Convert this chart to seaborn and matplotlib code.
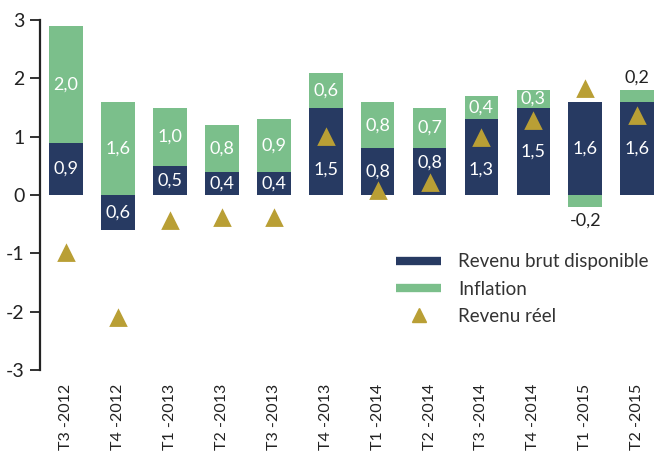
import numpy as np
import pandas as pd
import seaborn as sns
import matplotlib.pyplot as plt
from matplotlib.lines import Line2D

# Data
periodes = ["T3 -2012", "T4 -2012", "T1 -2013", "T2 -2013", "T3 -2013", "T4 -2013",
            "T1 -2014", "T2 -2014", "T3 -2014", "T4 -2014", "T1 -2015", "T2 -2015"]
revenu_brut = [0.9, -0.6, 0.5, 0.4, 0.4, 1.5, 0.8, 0.8, 1.3, 1.5, 1.6, 1.6]
inflation = [2.0, 1.6, 1.0, 0.8, 0.9, 0.6, 0.8, 0.7, 0.4, 0.3, -0.2, 0.2]
revenu_reel = [-1.0, -2.1, -0.45, -0.4, -0.4, 1.0, 0.07, 0.2, 0.98, 1.27, 1.82, 1.36]

NAVY = "#273a62"
GREEN = "#7bbf8b"
GOLD = "#b99f35"
TEXT = "#222222"

df = pd.DataFrame({"periode": periodes, "rbd": revenu_brut,
                   "inflation": inflation, "reel": revenu_reel})
same_sign = np.sign(df["rbd"]) == np.sign(df["inflation"])
df["inf_start"] = np.where(same_sign, df["rbd"], 0.0)
df["inf_end"] = df["inf_start"] + df["inflation"]

sns.set_style("white")
plt.rcParams["font.family"] = ["Lato", "DejaVu Sans"]
plt.rcParams["axes.unicode_minus"] = False

fig = plt.figure(figsize=(6.57, 4.58), dpi=100)
ax = fig.add_axes([0.061, 0.192, 0.939, 0.764])

# green drawn to the stack top first, navy painted over the lower part
sns.barplot(data=df, x="periode", y="inf_end", color=GREEN, width=0.65,
            saturation=1, linewidth=0, ax=ax)
sns.barplot(data=df, x="periode", y="rbd", color=NAVY, width=0.65,
            saturation=1, linewidth=0, ax=ax)
sns.pointplot(data=df, x="periode", y="reel", color=GOLD, linestyle="none",
              marker="^", markersize=9.5, ax=ax)
for coll in ax.collections:
    coll.set_zorder(5)

def fmt(v):
    return f"{v:.1f}".replace(".", ",")

LBL = 13
for i, row in df.iterrows():
    # keep the navy label clear of the triangle when it sits near the middle
    y_lbl = row["rbd"] / 2
    inside = 0 < row["reel"] < row["rbd"]
    gap = row["reel"] - y_lbl
    if inside and (0 < gap < 0.35 or -0.3 < gap <= 0):
        if gap > 0:
            y_lbl = (row["reel"] - 0.12) / 2
        else:
            y_lbl = (row["reel"] + 0.12 + row["rbd"]) / 2
    ax.text(i, y_lbl, fmt(abs(row["rbd"])), ha="center", va="center",
            color="white", fontsize=LBL)
    if abs(row["inflation"]) >= 0.25:
        ax.text(i, (row["inf_start"] + row["inf_end"]) / 2, fmt(row["inflation"]),
                ha="center", va="center", color="white", fontsize=LBL)
    elif row["inflation"] < 0:
        ax.text(i, row["inf_end"] - 0.1, fmt(row["inflation"]), ha="center",
                va="top", color=TEXT, fontsize=LBL)
    else:
        ax.text(i, row["inf_end"] + 0.08, fmt(row["inflation"]), ha="center",
                va="bottom", color=TEXT, fontsize=LBL)

ax.set_ylim(-3, 3)
ax.set_xlim(-0.5, 11.38)
ax.set_yticks([-3, -2, -1, 0, 1, 2, 3])
ax.set_xlabel("")
ax.set_ylabel("")
for side in ["top", "right", "bottom"]:
    ax.spines[side].set_visible(False)
ax.spines["left"].set_color(TEXT)
ax.spines["left"].set_linewidth(1.6)
ax.tick_params(axis="y", length=7, width=1.3, color=TEXT, labelsize=14,
               labelcolor=TEXT, pad=4, left=True)
ax.tick_params(axis="x", length=0, labelsize=11.5, labelcolor=TEXT, pad=10)
plt.setp(ax.get_xticklabels(), rotation=90)

handles = [Line2D([0], [0], color=NAVY, lw=6, solid_capstyle="butt"),
           Line2D([0], [0], color=GREEN, lw=6, solid_capstyle="butt"),
           Line2D([0], [0], color=GOLD, marker="^", markersize=9.5, linestyle="none")]
ax.legend(handles, ["Revenu brut disponible", "Inflation", "Revenu réel"],
          loc="upper left", bbox_to_anchor=(0.565, 0.355), frameon=False,
          fontsize=13.5, handlelength=2.4, handletextpad=0.9, labelspacing=0.55,
          labelcolor="#333333", borderaxespad=0)

fig.savefig("out.png", dpi=100)
